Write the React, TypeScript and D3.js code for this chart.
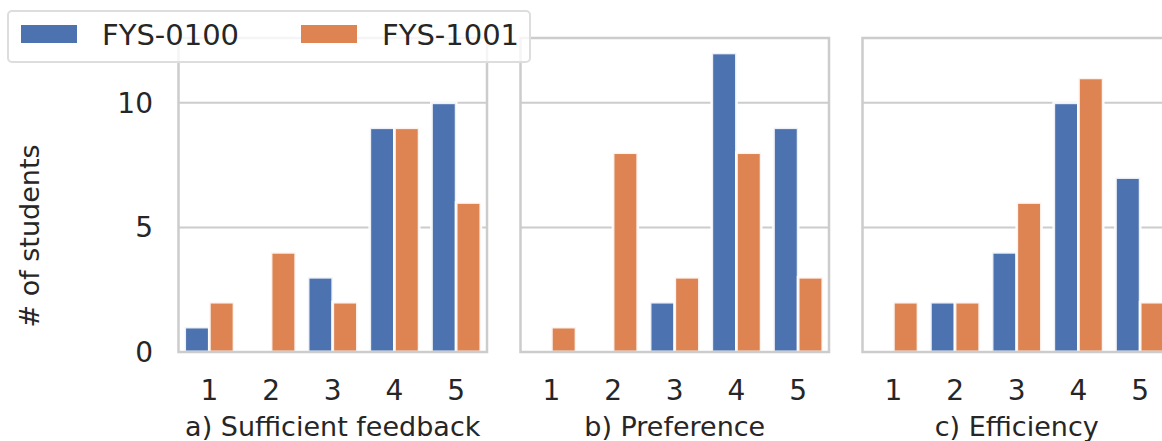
import React, { useEffect, useRef } from 'react'
import * as d3 from 'd3'

const categories = ['1', '2', '3', '4', '5']
const seriesNames = ['FYS-0100', 'FYS-1001']
const panelTitles = ['a) Sufficient feedback', 'b) Preference', 'c) Efficiency']
// counts per panel, one array per course
const feedback0100 = [1, 0, 3, 9, 10]
const feedback1001 = [2, 4, 2, 9, 6]
const preference0100 = [0, 0, 2, 12, 9]
const preference1001 = [1, 8, 3, 8, 3]
const efficiency0100 = [0, 2, 4, 10, 7]
const efficiency1001 = [2, 2, 6, 11, 2]
const yTicks = [0, 5, 10]

const colors = ['#4C72B0', '#DD8452']
const W = 1162
const H = 441
const font = '"DejaVu Sans", sans-serif'

export default function App() {
  const ref = useRef<SVGSVGElement>(null)

  useEffect(() => {
    const svg = d3.select(ref.current)
    svg.selectAll('*').remove()

    const panels = [
      [feedback0100, feedback1001],
      [preference0100, preference1001],
      [efficiency0100, efficiency1001],
    ]
    const left0 = 178.5, panelW = 308.5, gap = 33.5
    const top = 38, bottom = 352
    const y = d3.scaleLinear().domain([0, 12.6]).range([bottom, top])

    panels.forEach((vals, p) => {
      const x0 = left0 + p * (panelW + gap)
      const x = d3.scaleBand().domain(categories).range([x0, x0 + panelW])
      const xs = d3.scaleBand().domain(seriesNames)
        .range([x.bandwidth() * 0.1, x.bandwidth() * 0.9])
      const g = svg.append('g')

      // horizontal grid
      g.selectAll('line.grid').data(yTicks).enter().append('line')
        .attr('x1', x0).attr('x2', x0 + panelW)
        .attr('y1', d => y(d)).attr('y2', d => y(d))
        .attr('stroke', '#cccccc').attr('stroke-width', 2)

      seriesNames.forEach((s, si) => {
        g.selectAll('rect.s' + si).data(vals[si]).enter().append('rect')
          .attr('x', (d, i) => x(categories[i])! + xs(s)!)
          .attr('width', xs.bandwidth())
          .attr('y', d => y(d))
          .attr('height', d => bottom - y(d))
          .attr('fill', colors[si])
          .attr('stroke', d => d > 0 ? '#ffffff' : 'none')
          .attr('stroke-opacity', 0.9)
          .attr('stroke-width', 2.8)
      })

      // frame
      g.append('rect')
        .attr('x', x0).attr('y', top)
        .attr('width', panelW).attr('height', bottom - top)
        .attr('fill', 'none').attr('stroke', '#cccccc').attr('stroke-width', 2.5)

      g.selectAll('text.xt').data(categories).enter().append('text')
        .attr('x', d => x(d)! + x.bandwidth() / 2)
        .attr('y', 400)
        .attr('text-anchor', 'middle')
        .attr('font-size', 28).attr('font-family', font).attr('fill', '#262626')
        .text(d => d)

      g.append('text')
        .attr('x', x0 + panelW / 2).attr('y', 436)
        .attr('text-anchor', 'middle')
        .attr('font-size', 27).attr('font-family', font).attr('fill', '#262626')
        .text(panelTitles[p])

      if (p === 0) {
        g.selectAll('text.yt').data(yTicks).enter().append('text')
          .attr('x', 153).attr('y', d => y(d))
          .attr('dy', '0.36em')
          .attr('text-anchor', 'end')
          .attr('font-size', 28).attr('font-family', font).attr('fill', '#262626')
          .text(d => d)
      }
    })

    svg.append('text')
      .attr('transform', 'translate(39,236) rotate(-90)')
      .attr('text-anchor', 'middle')
      .attr('font-size', 27).attr('font-family', font).attr('fill', '#262626')
      .text('# of students')

    // legend
    const lg = svg.append('g')
    lg.append('rect')
      .attr('x', 8).attr('y', 11).attr('width', 522).attr('height', 51)
      .attr('rx', 4)
      .attr('fill', '#ffffff').attr('fill-opacity', 0.8)
      .attr('stroke', '#dddddd').attr('stroke-width', 2)
    const lx = [21, 301]
    seriesNames.forEach((s, i) => {
      lg.append('rect')
        .attr('x', lx[i]).attr('y', 25).attr('width', 56).attr('height', 18)
        .attr('fill', colors[i])
      lg.append('text')
        .attr('x', lx[i] + 81).attr('y', 44.5)
        .attr('font-size', 29).attr('font-family', font).attr('fill', '#262626')
        .text(s)
    })
  }, [])

  return (
    <svg ref={ref} width={W} height={H}
      style={{ position: 'absolute', left: 0, top: 0, background: '#fff' }} />
  )
}
